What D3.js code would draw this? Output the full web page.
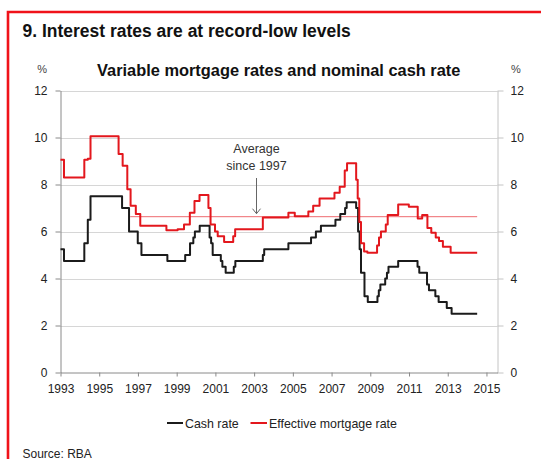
<!DOCTYPE html>
<html>
<head>
<meta charset="utf-8">
<script src="https://cdn.jsdelivr.net/npm/d3@7"></script>
<style>
  html, body { margin: 0; padding: 0; background: #fff; }
  svg { display: block; font-family: "Liberation Sans", Arial, sans-serif; }
</style>
</head>
<body>
<svg id="chart" width="541" height="459"></svg>
<script>
// Cash rate: dates (decimal years) at which each level starts
const cashDates = [1993.0, 1993.18, 1994.23, 1994.41, 1994.55, 1996.18, 1996.54, 1996.99, 1997.18,
  1998.52, 1999.44, 1999.69, 1999.86, 1999.94, 2000.19, 2000.70, 2000.78, 2000.86, 2001.28,
  2001.36, 2001.53, 2001.95, 2002.03, 2003.45, 2003.52, 2004.77, 2005.94, 2006.19, 2006.45,
  2007.20, 2007.45, 2007.70, 2007.78, 2008.27, 2008.37, 2008.45, 2008.52, 2008.70, 2008.87,
  2009.37, 2009.44, 2009.52, 2009.77, 2009.86, 2009.94, 2010.44, 2011.44, 2011.53, 2011.93,
  2012.03, 2012.36, 2012.53, 2012.95, 2013.20];
const cashRates = [5.25, 4.75, 5.5, 6.5, 7.5, 7.0, 6.0, 5.5, 5.0,
  4.75, 5.0, 5.5, 5.75, 6.0, 6.25, 5.75, 5.5, 5.0, 4.75,
  4.5, 4.25, 4.5, 4.75, 5.0, 5.25, 5.5, 5.75, 6.0, 6.25,
  6.5, 6.75, 7.0, 7.25, 7.0, 6.0, 5.25, 4.25, 3.25, 3.0,
  3.25, 3.5, 3.75, 4.0, 4.25, 4.5, 4.75, 4.5, 4.25, 3.75,
  3.5, 3.25, 3.0, 2.75, 2.5];

// Effective mortgage rate: dates at which each level starts
const mortDates = [1993.0, 1993.18, 1994.23, 1994.41, 1994.55, 1996.0, 1996.21, 1996.45, 1996.62,
  1996.89, 1997.12, 1998.47, 1999.05, 1999.38, 1999.68, 1999.92, 2000.18, 2000.64, 2000.75,
  2000.98, 2001.12, 2001.45, 2001.92, 2002.02, 2003.45, 2004.77, 2005.10, 2005.80, 2006.05,
  2006.38, 2007.15, 2007.42, 2007.68, 2007.80, 2008.27, 2008.35, 2008.43, 2008.52, 2008.68,
  2008.85, 2009.35, 2009.45, 2009.55, 2009.80, 2009.90, 2010.44, 2010.99, 2011.45, 2011.68,
  2011.95, 2012.15, 2012.38, 2012.55, 2012.75, 2013.15];
const mortRates = [9.05, 8.3, 9.05, 9.1, 10.05, 9.3, 8.8, 7.8, 7.1,
  6.75, 6.25, 6.05, 6.1, 6.3, 6.8, 7.3, 7.55, 7.0, 6.3,
  6.0, 5.8, 5.55, 5.8, 6.1, 6.6, 6.8, 6.65, 6.85, 7.1,
  7.4, 7.65, 7.9, 8.6, 8.9, 8.2, 7.4, 6.4, 5.5, 5.15,
  5.1, 5.4, 5.75, 6.0, 6.3, 6.7, 7.15, 7.05, 6.55, 6.7,
  6.15, 5.95, 5.75, 5.6, 5.35, 5.1];

const seriesEnd = 2014.52;          // last observation
const avgStart = 1996.6;            // start of the averaging period
const avgMortgage = 6.63;           // average effective mortgage rate since 1997

const yearTicks = [1993, 1995, 1997, 1999, 2001, 2003, 2005, 2007, 2009, 2011, 2013, 2015];
const rateTicks = [0, 2, 4, 6, 8, 10, 12];

const seriesNames = ["Cash rate", "Effective mortgage rate"];
const seriesColors = ["#1b1b1b", "#e3171d"];

const svg = d3.select("#chart");

// Red frame around the panel
svg.append("path")
  .attr("d", "M8,470 L8,12 L560,12")
  .attr("fill", "none")
  .attr("stroke", "#f0121a")
  .attr("stroke-width", 2.6);

// Titles
svg.append("text")
  .attr("transform", "translate(22.5,36.5) scale(0.92,1)")
  .attr("font-size", 19).attr("font-weight", "bold").attr("fill", "#111")
  .text("9. Interest rates are at record-low levels");

svg.append("text")
  .attr("transform", "translate(97,76) scale(0.965,1)")
  .attr("font-size", 17).attr("font-weight", "bold").attr("fill", "#111")
  .text("Variable mortgage rates and nominal cash rate");

const x = d3.scaleLinear().domain([1993, 2015.57]).range([60.5, 497.5]);
const y = d3.scaleLinear().domain([0, 12]).range([372.5, 90.5]);

// Units
svg.append("text").attr("x", 47).attr("y", 73).attr("text-anchor", "end")
  .attr("font-size", 11).attr("fill", "#444").text("%");
svg.append("text").attr("x", 511).attr("y", 73).attr("text-anchor", "start")
  .attr("font-size", 11).attr("fill", "#444").text("%");

// Horizontal gridlines
svg.append("g").selectAll("line")
  .data(rateTicks.filter(d => d > 0))
  .join("line")
  .attr("x1", x.range()[0]).attr("x2", x.range()[1])
  .attr("y1", d => Math.round(y(d)) + 0.5).attr("y2", d => Math.round(y(d)) + 0.5)
  .attr("stroke", "#d6d6d6").attr("stroke-width", 1);

function styleAxis(g, lineColor) {
  g.selectAll(".domain").attr("stroke", lineColor);
  g.selectAll(".tick line").attr("stroke", lineColor);
  g.selectAll(".tick text").attr("fill", "#222").attr("font-size", 12)
    .attr("font-family", "'Liberation Sans', Arial, sans-serif");
}

// Left axis
svg.append("g")
  .attr("transform", `translate(${x.range()[0]},0)`)
  .call(d3.axisLeft(y).tickValues(rateTicks).tickSize(5).tickPadding(8).tickSizeOuter(0))
  .call(g => styleAxis(g, "#8a8a8a"));

// Right axis
svg.append("g")
  .attr("transform", `translate(${x.range()[1]},0)`)
  .call(d3.axisRight(y).tickValues(rateTicks).tickSize(6).tickPadding(7).tickSizeOuter(0))
  .call(g => styleAxis(g, "#c4c4c4"));

// Bottom axis
svg.append("g")
  .attr("transform", `translate(0,${y(0)})`)
  .call(d3.axisBottom(x).tickValues(yearTicks).tickFormat(d3.format("d"))
    .tickSize(4).tickPadding(8).tickSizeOuter(0))
  .call(g => styleAxis(g, "#8a8a8a"));

// Average line since 1997
svg.append("line")
  .attr("x1", x(avgStart)).attr("x2", x(seriesEnd))
  .attr("y1", y(avgMortgage)).attr("y2", y(avgMortgage))
  .attr("stroke", "#ee6b6f").attr("stroke-width", 1);

// Step lines
const line = d3.line()
  .x(d => x(d[0]))
  .y(d => y(d[1]))
  .curve(d3.curveStepAfter);

function buildSeries(dates, rates) {
  const pts = dates.map((d, i) => [d, rates[i]]);
  pts.push([seriesEnd, rates[rates.length - 1]]);
  return pts;
}

const series = [buildSeries(cashDates, cashRates), buildSeries(mortDates, mortRates)];

svg.append("g").selectAll("path")
  .data(series)
  .join("path")
  .attr("d", line)
  .attr("fill", "none")
  .attr("stroke", (d, i) => seriesColors[i])
  .attr("stroke-width", 2)
  .attr("stroke-linejoin", "round");

// Annotation
const ann = svg.append("g").attr("fill", "#333").attr("font-size", 12.5).attr("text-anchor", "middle");
ann.append("text").attr("x", 256.5).attr("y", 153).text("Average");
ann.append("text").attr("x", 256.5).attr("y", 170).text("since 1997");
svg.append("line")
  .attr("x1", 256.5).attr("x2", 256.5).attr("y1", 178).attr("y2", y(avgMortgage) - 3)
  .attr("stroke", "#666").attr("stroke-width", 1);
svg.append("path")
  .attr("d", `M252.5,${y(avgMortgage) - 8} L256.5,${y(avgMortgage) - 3} L260.5,${y(avgMortgage) - 8}`)
  .attr("fill", "none").attr("stroke", "#666").attr("stroke-width", 1);

// Legend
const legendItems = [
  { x1: 167, x2: 183, tx: 185 },
  { x1: 250.5, x2: 267, tx: 269 }
];
const legend = svg.append("g");
legendItems.forEach((it, i) => {
  legend.append("line")
    .attr("x1", it.x1).attr("x2", it.x2).attr("y1", 423).attr("y2", 423)
    .attr("stroke", seriesColors[i]).attr("stroke-width", 2);
  legend.append("text")
    .attr("x", it.tx).attr("y", 427.5)
    .attr("font-size", 12.4).attr("fill", "#222")
    .text(seriesNames[i]);
});

// Source
svg.append("text").attr("x", 22.5).attr("y", 457.5)
  .attr("font-size", 12).attr("fill", "#222").text("Source: RBA");
</script>
</body>
</html>
